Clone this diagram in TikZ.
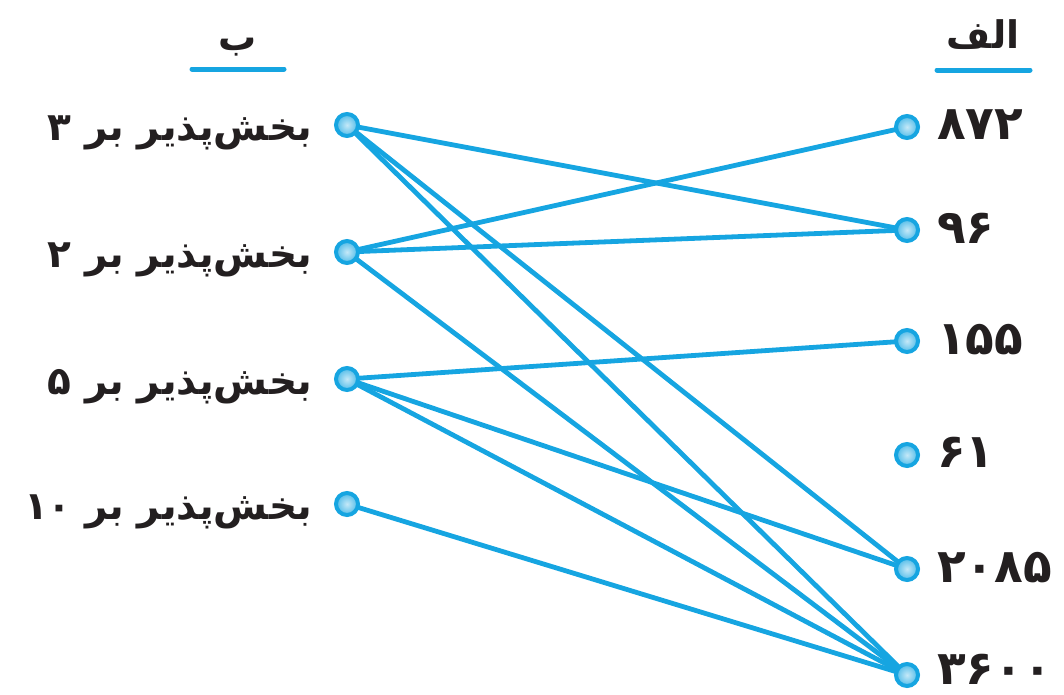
\documentclass[tikz,border=0pt]{standalone}
\usepackage{fontspec}
\usetikzlibrary{backgrounds}
\newfontfamily\fa[Script=Arabic]{DejaVu Sans}
\TeXXeTstate=1
\definecolor{lc}{RGB}{22,165,225}
\definecolor{tx}{RGB}{35,31,32}
\tikzset{
  dot/.style={circle, minimum size=22pt, inner sep=0pt, draw=lc, line width=4pt, inner color=lc!25, outer color=lc!75},
  link/.style={draw=lc, line width=4.8pt, line cap=round},
  lbl/.style={anchor=base east, inner sep=0pt, text=tx, font=\fa\bfseries\fontsize{39}{46}\selectfont},
  num/.style={anchor=base west, inner sep=0pt, text=tx, font=\fa\bfseries\fontsize{47}{54}\selectfont},
  head/.style={anchor=base, inner sep=0pt, text=tx, font=\fa\bfseries\fontsize{38}{44}\selectfont},
  uline/.style={draw=lc, line width=5pt, line cap=round}
}
\begin{document}
\begin{tikzpicture}[x=1pt,y=-1pt]
\useasboundingbox (0,0) rectangle (1064,694);
% headers
\node[head] (hb) at (238,50) {\beginR ب\endR};
\coordinate (hb1) at (192,69);
\coordinate (hb2) at (284,69);
\draw[uline] (hb1) -- (hb2);
\node[head] (ha) at (983,48) {\beginR الف\endR};
\coordinate (ha1) at (937,70);
\coordinate (ha2) at (1030,70);
\draw[uline] (ha1) -- (ha2);
% left dots
\node[dot] (L1) at (347,125) {};
\node[dot] (L2) at (347,252) {};
\node[dot] (L3) at (347,379) {};
\node[dot] (L4) at (347,504) {};
% right dots
\node[dot] (R1) at (907,127) {};
\node[dot] (R2) at (907,230) {};
\node[dot] (R3) at (907,341) {};
\node[dot] (R4) at (907,455) {};
\node[dot] (R5) at (907,569) {};
\node[dot] (R6) at (907,675) {};
% left labels
\node[lbl] (t1) at (312,140) {\beginR بخش‌پذیر بر ۳\endR};
\node[lbl] (t2) at (312,267) {\beginR بخش‌پذیر بر ۲\endR};
\node[lbl] (t3) at (312,394) {\beginR بخش‌پذیر بر ۵\endR};
\node[lbl] (t4) at (312,519) {\beginR بخش‌پذیر بر ۱۰\endR};
% right numbers
\node[num] (n1) at (937,139) {\beginR ۸۷۲\endR};
\node[num] (n2) at (937,243) {\beginR ۹۶\endR};
\node[num] (n3) at (937,354) {\beginR ۱۵۵\endR};
\node[num] (n4) at (937,467) {\beginR ۶۱\endR};
\node[num] (n5) at (937,582) {\beginR ۲۰۸۵\endR};
\node[num] (n6) at (937,684) {\beginR ۳۶۰۰\endR};
% links
\begin{scope}[on background layer]
\draw[link] (L1.center) -- (R2.center);
\draw[link] (L1.center) -- (R5.center);
\draw[link] (L1.center) -- (R6.center);
\draw[link] (L2.center) -- (R1.center);
\draw[link] (L2.center) -- (R2.center);
\draw[link] (L2.center) -- (R6.center);
\draw[link] (L3.center) -- (R3.center);
\draw[link] (L3.center) -- (R5.center);
\draw[link] (L3.center) -- (R6.center);
\draw[link] (L4.center) -- (R6.center);
\end{scope}
\end{tikzpicture}
\end{document}
